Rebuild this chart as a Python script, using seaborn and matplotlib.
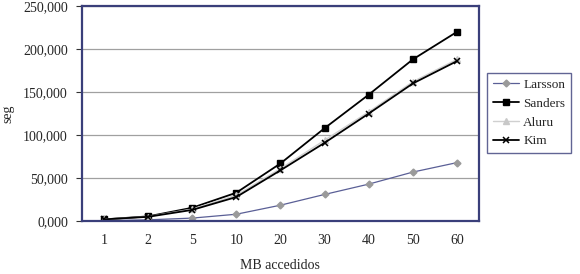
import pandas as pd
import matplotlib.pyplot as plt
import seaborn as sns

# MB accedidos vs seg
mb = ["1", "2", "5", "10", "20", "30", "40", "50", "60"]
larsson = [500, 1500, 3500, 8000, 18500, 31000, 43000, 57000, 68000]
sanders = [2000, 5500, 15500, 33000, 67000, 108000, 147000, 188000, 220000]
aluru = [2000, 5200, 14000, 30000, 61000, 94000, 127000, 162000, 188000]
kim = [2000, 5000, 13000, 28000, 59000, 91000, 125000, 160000, 186000]
ytick_labels = ["0,000", "50,000", "100,000", "150,000", "200,000", "250,000"]

series = {"Larsson": larsson, "Sanders": sanders, "Aluru": aluru, "Kim": kim}
rows = []
for name, vals in series.items():
    for i, v in enumerate(vals):
        rows.append({"pos": i, "seg": v, "serie": name})
df = pd.DataFrame(rows)

sns.set_style("white")
plt.rcParams["font.family"] = ["Liberation Serif", "DejaVu Serif"]

fig = plt.figure(figsize=(5.8, 2.74), dpi=100)
ax = fig.add_axes([0.141, 0.193, 0.685, 0.785])

styles = {
    "Larsson": dict(color="#5a5f96", marker="D", ms=3.5, mfc="#9a9a9a", mec="#9a9a9a", lw=0.9),
    "Sanders": dict(color="black", marker="s", ms=4, mfc="black", mec="black", lw=1.3),
    "Aluru": dict(color="#d0d0d0", marker="^", ms=4, mfc="#c8c8c8", mec="#c8c8c8", lw=1.0),
    "Kim": dict(color="black", marker="x", ms=4, mew=1.1, lw=1.3),
}
for name in series:
    st = styles[name]
    sns.lineplot(data=df[df["serie"] == name], x="pos", y="seg", ax=ax, label=name,
                 color=st["color"], marker=st["marker"], markersize=st["ms"],
                 markerfacecolor=st.get("mfc", st["color"]),
                 markeredgecolor=st.get("mec", st["color"]),
                 markeredgewidth=st.get("mew", 1.0), linewidth=st["lw"])

ax.set_xlim(-0.5, len(mb) - 0.5)
ax.set_ylim(0, 250000)
ax.set_yticks(range(0, 250001, 50000))
ax.set_yticklabels(ytick_labels, fontsize=10)
ax.yaxis.grid(True, color="#a0a0a0", lw=0.9)
ax.set_axisbelow(True)

ax.set_xticks(range(len(mb)))
ax.set_xticklabels(mb, fontsize=10)
ax.tick_params(axis="x", length=0, pad=9)
ax.set_xticks([i - 0.5 for i in range(len(mb) + 1)], minor=True)
ax.tick_params(axis="x", which="minor", length=4, color="#333333", direction="out")
ax.tick_params(axis="y", length=4, direction="out", left=True, color="#333333", pad=6)

for side in ["left", "bottom", "top", "right"]:
    ax.spines[side].set_color("#3a3f7a")
    ax.spines[side].set_linewidth(1.6)

ax.set_xlabel("MB accedidos", fontsize=10, labelpad=9)
ax.set_ylabel("seg", fontsize=10, labelpad=6)

leg = ax.legend(loc="upper left", bbox_to_anchor=(1.02, 0.69), frameon=True, fontsize=9.5,
                fancybox=False, handlelength=2.0, borderpad=0.45, labelspacing=0.5,
                handletextpad=0.3, borderaxespad=0)
leg.get_frame().set_edgecolor("#3a3f7a")
leg.get_frame().set_linewidth(1.0)

plt.savefig("out.png", dpi=100)
plt.close()
